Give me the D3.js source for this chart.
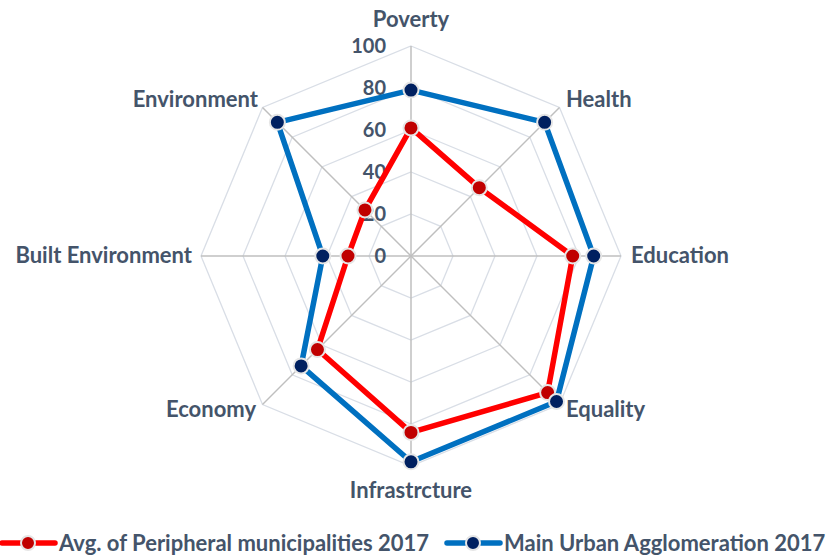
<!DOCTYPE html>
<html>
<head>
<meta charset="utf-8">
<script src="https://cdn.jsdelivr.net/npm/d3@7"></script>
<style>
  body { margin: 0; background: #fff; }
  text { font-family: Lato, "Open Sans", sans-serif; font-weight: bold; fill: #44546A; }
</style>
</head>
<body>
<svg id="chart" width="830" height="558"></svg>
<script>
// categories clockwise from top
const categories = ['Poverty', 'Health', 'Education', 'Equality', 'Infrastrcture', 'Economy', 'Built Environment', 'Environment'];
const peripheral = [61, 46, 77, 92, 84, 63, 30, 31];
const mainUrban = [79, 90, 87, 98, 98, 74, 42, 90];
const ticks = [0, 20, 40, 60, 80, 100];
const seriesNames = ['Avg. of Peripheral municipalities 2017', 'Main Urban Agglomeration 2017'];

const svg = d3.select('#chart');
const cx = 411, cy = 256;

const r = d3.scaleLinear().domain([0, 100]).range([0, 210]);
const angle = d3.scaleLinear().domain([0, categories.length]).range([0, 2 * Math.PI]);

function pt(i, v) {
  const a = angle(i);
  return [cx + r(v) * Math.sin(a), cy - r(v) * Math.cos(a)];
}

// web
const g = svg.append('g');
ticks.slice(1).forEach(t => {
  g.append('polygon')
    .attr('points', categories.map((c, i) => pt(i, t).join(',')).join(' '))
    .attr('fill', 'none')
    .attr('stroke', '#D9DEE6')
    .attr('stroke-width', 1.3);
});
categories.forEach((c, i) => {
  const [x, y] = pt(i, 100);
  g.append('line')
    .attr('x1', cx).attr('y1', cy).attr('x2', x).attr('y2', y)
    .attr('stroke', '#BFBFBF').attr('stroke-width', 1.5);
});

// tick labels
svg.selectAll('.tick').data(ticks).enter().append('text')
  .attr('x', cx - 25)
  .attr('y', d => cy - r(d))
  .attr('dy', '0.35em')
  .attr('text-anchor', 'end')
  .style('font-size', '20px')
  .text(d => d);

// category labels
const labelPos = [
  { dx: 0, dy: -237, anchor: 'middle' },
  { dx: 155, dy: -157, anchor: 'start' },
  { dx: 220, dy: -1, anchor: 'start' },
  { dx: 155, dy: 153, anchor: 'start' },
  { dx: 0, dy: 234, anchor: 'middle' },
  { dx: -155, dy: 153, anchor: 'end' },
  { dx: -219, dy: -1, anchor: 'end' },
  { dx: -153, dy: -157, anchor: 'end' }
];
svg.selectAll('.cat').data(categories).enter().append('text')
  .attr('x', (d, i) => cx + labelPos[i].dx)
  .attr('y', (d, i) => cy + labelPos[i].dy)
  .attr('dy', '0.35em')
  .attr('text-anchor', (d, i) => labelPos[i].anchor)
  .style('font-size', '22px')
  .text(d => d);

// series
const series = [
  { values: peripheral, line: '#FF0000', dot: '#C00000' },
  { values: mainUrban, line: '#0070C0', dot: '#002060' }
];
const radial = d3.lineRadial()
  .angle((d, i) => angle(i))
  .radius(d => r(d))
  .curve(d3.curveLinearClosed);

series.forEach(s => {
  const sg = svg.append('g').attr('transform', `translate(${cx},${cy})`);
  sg.append('path')
    .attr('d', radial(s.values))
    .attr('fill', 'none')
    .attr('stroke', s.line)
    .attr('stroke-width', 5.5)
    .attr('stroke-linejoin', 'round');
  sg.selectAll('circle').data(s.values).enter().append('circle')
    .attr('cx', (d, i) => r(d) * Math.sin(angle(i)))
    .attr('cy', (d, i) => -r(d) * Math.cos(angle(i)))
    .attr('r', 7.5)
    .attr('fill', s.dot)
    .attr('stroke', '#E6E6E6')
    .attr('stroke-width', 2);
});

// legend
const legendX = [0, 445];
series.forEach((s, k) => {
  const lg = svg.append('g').attr('transform', `translate(${legendX[k]},543)`);
  lg.append('line').attr('x1', 2).attr('x2', 55).attr('y1', 0).attr('y2', 0)
    .attr('stroke', s.line).attr('stroke-width', 5.5).attr('stroke-linecap', 'round');
  lg.append('circle').attr('cx', 28).attr('cy', 0).attr('r', 7)
    .attr('fill', s.dot).attr('stroke', '#E6E6E6').attr('stroke-width', 2);
  lg.append('text').attr('x', 59).attr('y', 0).attr('dy', '0.35em')
    .style('font-size', '22px')
    .text(seriesNames[k]);
});
</script>
</body>
</html>
